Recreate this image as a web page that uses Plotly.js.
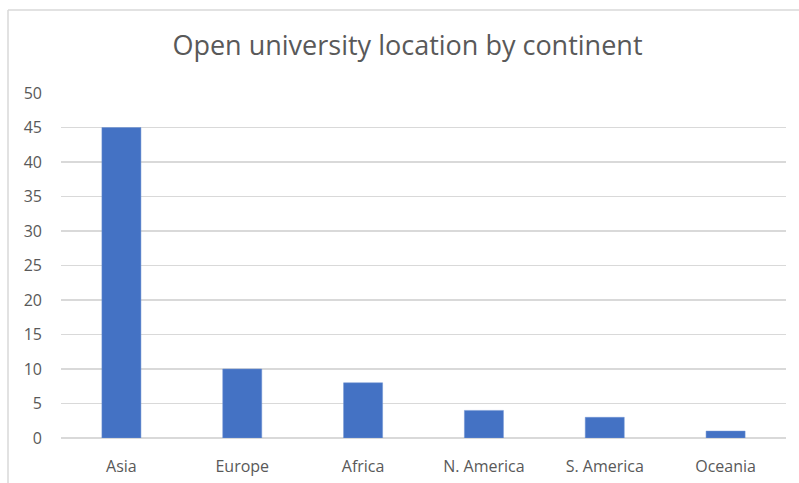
<!DOCTYPE html>
<html>
<head>
<meta charset="utf-8">
<script src="https://cdn.plot.ly/plotly-3.0.1.min.js"></script>
<style>html,body{margin:0;padding:0;background:#fff;}#chart{width:799px;height:483px;}</style>
</head>
<body>
<div id="chart"></div>
<script>
const categories = ["Asia", "Europe", "Africa", "N. America", "S. America", "Oceania"];
const counts = [45, 10, 8, 4, 3, 1];
const yTickValues = [0, 5, 10, 15, 20, 25, 30, 35, 40, 45, 50];
const chartTitle = "Open university location by continent";

const trace = {
  type: "bar",
  x: categories,
  y: counts,
  marker: {color: "#4472C4", line: {color: "#6f93d3", width: 0.5}},
  hoverinfo: "x+y"
};

const fontFamily = "Open Sans, Noto Sans, sans-serif";
const layout = {
  width: 799,
  height: 483,
  margin: {l: 61, r: 13, t: 93, b: 45},
  paper_bgcolor: "#ffffff",
  plot_bgcolor: "#ffffff",
  title: {
    text: chartTitle,
    font: {family: fontFamily, size: 27, color: "#595959"},
    x: 0.51, xanchor: "center",
    y: 0.905, yanchor: "middle"
  },
  bargap: 0.677,
  showlegend: false,
  xaxis: {
    type: "category",
    showgrid: false,
    showline: false,
    zeroline: false,
    ticks: "",
    ticklabelstandoff: 17,
    tickfont: {family: fontFamily, size: 16, color: "#595959"}
  },
  yaxis: {
    range: [0, 50],
    tickvals: yTickValues,
    showgrid: true,
    gridcolor: "#d9d9d9",
    gridwidth: 1.3,
    zeroline: true,
    zerolinecolor: "#d9d9d9",
    zerolinewidth: 1.3,
    showline: false,
    ticks: "",
    ticklabelstandoff: 18,
    tickfont: {family: fontFamily, size: 16, color: "#595959"}
  },
  shapes: [
    {type: "line", xref: "paper", yref: "paper", x0: -0.0731, x1: -0.0731, y0: -0.2, y1: 1.2406, line: {color: "#d9d9d9", width: 1.5}},
    {type: "line", xref: "paper", yref: "paper", x0: -0.0731, x1: 1.03, y0: 1.2406, y1: 1.2406, line: {color: "#d9d9d9", width: 1.5}}
  ]
};

Plotly.newPlot("chart", [trace], layout, {displayModeBar: false, staticPlot: true});
</script>
</body>
</html>
